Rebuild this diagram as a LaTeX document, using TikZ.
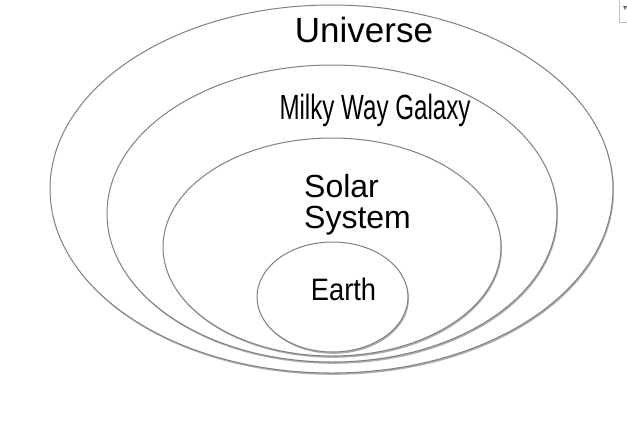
\documentclass[tikz,border=0pt]{standalone}
\usepackage{fontspec}
\setmainfont{Liberation Sans}
\newfontfamily\narrowA[FakeStretch=0.69]{Liberation Sans}
\newfontfamily\narrowB[FakeStretch=0.88]{Liberation Sans}
\usetikzlibrary{shapes.geometric,shadows}
\tikzset{
  ring/.style={ellipse, draw=black!50, line width=1pt, fill=white, inner sep=0pt,
    drop shadow={shadow xshift=1pt, shadow yshift=-1.8pt, opacity=0.45, fill=black!70}},
  lbl/.style={inner sep=0pt, text=black}
}
\begin{document}
\begin{tikzpicture}[x=1pt,y=-1pt]
\useasboundingbox[fill=white] (0,0) rectangle (627,440);
% top-right artifact
\draw[black!25, line width=0.8pt] (619,-1) -- (619,22) -- (628,22);
\fill[black!60] (623,6) -- (627,6) -- (625,10) -- cycle;
% rings
\node[ring, minimum width=563pt, minimum height=368pt] (universe) at (331.5,189) {};
\node[ring, minimum width=450pt, minimum height=297pt] (galaxy) at (332,213.5) {};
\node[ring, minimum width=338pt, minimum height=218pt] (solar) at (332,247) {};
\node[ring, minimum width=151pt, minimum height=110pt] (earth) at (332.5,297) {};
% labels
\node[lbl, anchor=base] (tu) at (364,42) {\fontsize{35}{40}\selectfont Universe};
\node[lbl, anchor=base] (tg) at (375,119) {\fontsize{35}{40}\selectfont\narrowA Milky Way Galaxy};
\node[lbl, anchor=base west] (ts1) at (304,197) {\fontsize{32}{36}\selectfont Solar};
\node[lbl, anchor=base west] (ts2) at (304,228) {\fontsize{32}{36}\selectfont System};
\node[lbl, anchor=base] (te) at (343.5,300) {\fontsize{31}{36}\selectfont\narrowB Earth};
\end{tikzpicture}
\end{document}
